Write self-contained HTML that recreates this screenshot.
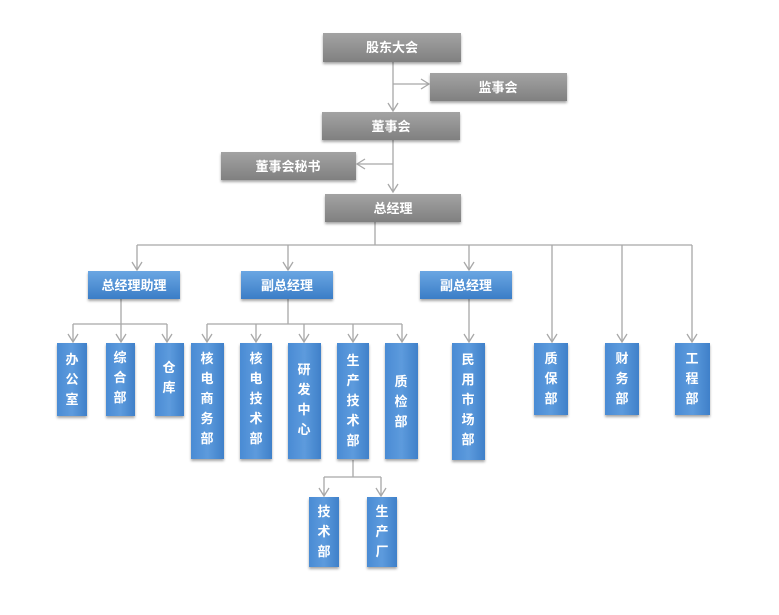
<!DOCTYPE html>
<html><head><meta charset="utf-8"><style>
html,body{margin:0;padding:0;background:#fff;}
svg{display:block;}
text{font-family:"Liberation Sans","Noto Sans CJK SC",sans-serif;font-weight:bold;fill:#fff;font-size:13px;}
</style></head><body>
<svg width="779" height="615" viewBox="0 0 779 615" xmlns="http://www.w3.org/2000/svg">
<defs>
<linearGradient id="g" x1="0" y1="0" x2="0" y2="1"><stop offset="0" stop-color="#a3a3a3"/><stop offset="1" stop-color="#808080"/></linearGradient>
<linearGradient id="b" x1="0" y1="0" x2="0" y2="1"><stop offset="0" stop-color="#6aa6e2"/><stop offset="1" stop-color="#3b7dc6"/></linearGradient>
<linearGradient id="bv" x1="0" y1="0" x2="1" y2="0"><stop offset="0" stop-color="#4a8bd4"/><stop offset="0.5" stop-color="#5d9bdd"/><stop offset="1" stop-color="#3f80c9"/></linearGradient>
<filter id="s" x="-20%" y="-20%" width="140%" height="150%"><feDropShadow dx="0" dy="2" stdDeviation="1.2" flood-color="#000" flood-opacity="0.35"/></filter>
</defs>
<g stroke="#a8a8a8" stroke-width="1.3" fill="none">
<path d="M393,62 V111 M388,103 L393,111 L398,103"/>
<path d="M393,84 H428 M421,79 L429,84 L421,89"/>
<path d="M393,140 V192 M388,184 L393,192 L398,184"/>
<path d="M393,164 H357 M365,159 L357,164 L365,169"/>
<path d="M375,222 V245 M137,245 H692"/>
<path d="M137,245 V270 M288,245 V270 M469,245 V270 M552,245 V342 M622,245 V342 M692,245 V342"/>
<path d="M132,262 L137,270 L142,262 M283,262 L288,270 L293,262 M464,262 L469,270 L474,262 M547,334 L552,342 L557,334 M617,334 L622,342 L627,334 M687,334 L692,342 L697,334"/>
<path d="M121,299 V324 M73,324 H167"/>
<path d="M73,324 V342 M121,324 V342 M167,324 V342"/>
<path d="M68,334 L73,342 L78,334 M116,334 L121,342 L126,334 M162,334 L167,342 L172,334"/>
<path d="M288,299 V324 M207,324 H402"/>
<path d="M207,324 V342 M256,324 V342 M304,324 V342 M353,324 V342 M402,324 V342"/>
<path d="M202,334 L207,342 L212,334 M251,334 L256,342 L261,334 M299,334 L304,342 L309,334 M348,334 L353,342 L358,334 M397,334 L402,342 L407,334"/>
<path d="M469,299 V342 M464,334 L469,342 L474,334"/>
<path d="M353,460 V477 M324,477 H381"/>
<path d="M324,477 V496 M381,477 V496 M319,488 L324,496 L329,488 M376,488 L381,496 L386,488"/>
</g>
<g filter="url(#s)" fill="url(#g)">
<rect x="323" y="33" width="138" height="29"/>
<rect x="430" y="73" width="137" height="28"/>
<rect x="322" y="112" width="138" height="28"/>
<rect x="221" y="152" width="135" height="28"/>
<rect x="325" y="194" width="136" height="28"/>
</g>
<g filter="url(#s)" fill="url(#b)">
<rect x="88" y="271" width="92" height="28"/>
<rect x="241" y="271" width="92" height="28"/>
<rect x="420" y="271" width="92" height="28"/>
</g>
<g filter="url(#s)" fill="url(#bv)">
<rect x="57" y="343" width="30" height="73"/>
<rect x="106" y="343" width="29" height="73"/>
<rect x="155" y="343" width="29" height="73"/>
<rect x="191" y="343" width="33" height="116"/>
<rect x="240" y="343" width="32" height="116"/>
<rect x="288" y="343" width="33" height="116"/>
<rect x="337" y="343" width="32" height="116"/>
<rect x="385" y="343" width="33" height="116"/>
<rect x="452" y="343" width="33" height="117"/>
<rect x="534" y="343" width="34" height="72"/>
<rect x="605" y="343" width="34" height="72"/>
<rect x="675" y="343" width="35" height="72"/>
<rect x="309" y="497" width="30" height="70"/>
<rect x="367" y="497" width="30" height="70"/>
</g>
<g text-anchor="middle">
<text x="392" y="52">股东大会</text>
<text x="498" y="92">监事会</text>
<text x="391" y="131">董事会</text>
<text x="288" y="171">董事会秘书</text>
<text x="393" y="213">总经理</text>
<text x="134" y="290">总经理助理</text>
<text x="287" y="290">副总经理</text>
<text x="466" y="290">副总经理</text>
</g>
<g text-anchor="middle" font-size="13">
<text x="72" y="364">办</text><text x="72" y="384">公</text><text x="72" y="404">室</text>
<text x="120" y="362">综</text><text x="120" y="382">合</text><text x="120" y="402">部</text>
<text x="169" y="372">仓</text><text x="169" y="392">库</text>
<text x="207" y="363">核</text><text x="207" y="383">电</text><text x="207" y="403">商</text><text x="207" y="423">务</text><text x="207" y="443">部</text>
<text x="256" y="363">核</text><text x="256" y="383">电</text><text x="256" y="403">技</text><text x="256" y="423">术</text><text x="256" y="443">部</text>
<text x="304" y="374">研</text><text x="304" y="394">发</text><text x="304" y="414">中</text><text x="304" y="434">心</text>
<text x="353" y="365">生</text><text x="353" y="385">产</text><text x="353" y="405">技</text><text x="353" y="425">术</text><text x="353" y="445">部</text>
<text x="401" y="386">质</text><text x="401" y="406">检</text><text x="401" y="426">部</text>
<text x="468" y="364">民</text><text x="468" y="384">用</text><text x="468" y="404">市</text><text x="468" y="424">场</text><text x="468" y="444">部</text>
<text x="551" y="363">质</text><text x="551" y="383">保</text><text x="551" y="403">部</text>
<text x="622" y="363">财</text><text x="622" y="383">务</text><text x="622" y="403">部</text>
<text x="692" y="363">工</text><text x="692" y="383">程</text><text x="692" y="403">部</text>
<text x="324" y="516">技</text><text x="324" y="536">术</text><text x="324" y="556">部</text>
<text x="382" y="516">生</text><text x="382" y="536">产</text><text x="382" y="556">厂</text>
</g>
</svg>
</body></html>
